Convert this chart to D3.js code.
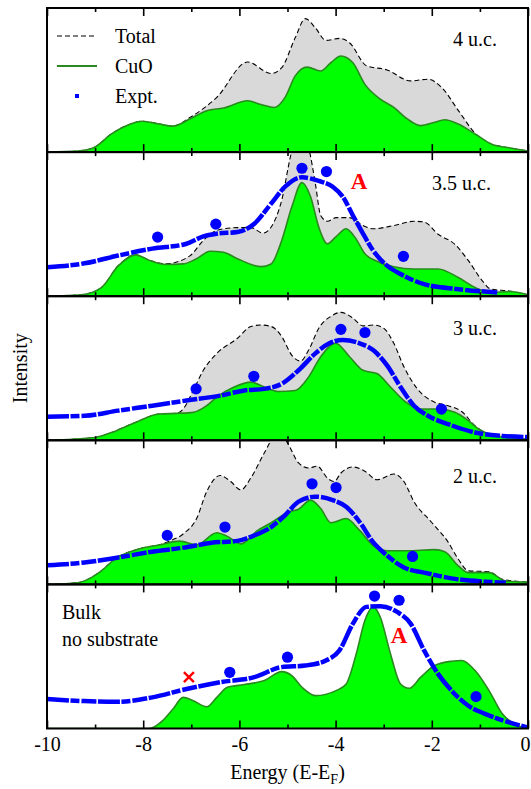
<!DOCTYPE html>
<html>
<head>
<meta charset="utf-8">
<script src="https://cdn.jsdelivr.net/npm/d3@7"></script>
<style>
  body { margin: 0; background: #fff; }
  text { font-family: "Liberation Serif", "Times New Roman", "DejaVu Serif", serif; }
</style>
</head>
<body>
<div id="chart"></div>
<script>
// Energy axis
const energyMajor = [-10, -8, -6, -4, -2, 0];
const energyMinor = [-9, -7, -5, -3, -1];

// Panel labels, top to bottom
const panelLabels = ["4 u.c.", "3.5 u.c.", "3 u.c.", "2 u.c.", "Bulk"];

// 4 u.c.
const cuo4 = [[-10,0],[-9.36,0.007],[-9.01,0.034],[-8.66,0.126],[-8.3,0.19],[-8.02,0.214],[-7.67,0.195],[-7.39,0.18],[-7.03,0.23],[-6.68,0.287],[-6.33,0.306],[-5.83,0.356],[-5.55,0.33],[-5.27,0.31],[-5.05,0.38],[-4.84,0.529],[-4.59,0.59],[-4.31,0.563],[-4.1,0.62],[-3.89,0.667],[-3.64,0.62],[-3.39,0.47],[-3.07,0.368],[-2.79,0.31],[-2.51,0.23],[-2.23,0.184],[-1.94,0.207],[-1.73,0.225],[-1.45,0.195],[-1.1,0.126],[-0.74,0.053],[-0.39,0.03],[0,0.007]];
const total4Upper = [[-7.03,0.24],[-6.47,0.38],[-5.83,0.625],[-5.34,0.545],[-5.12,0.586],[-4.84,0.793],[-4.63,0.926],[-4.42,0.862],[-4.2,0.775],[-3.92,0.789],[-3.71,0.759],[-3.36,0.6],[-2.93,0.57],[-2.44,0.494],[-2.08,0.506],[-1.8,0.45],[-1.45,0.29],[-1.1,0.13],[-0.81,0.057],[-0.39,0.03],[0,0.007]];

// 3.5 u.c.
const cuo35 = [[-10,0],[-9.29,0.01],[-8.87,0.06],[-8.52,0.21],[-8.16,0.287],[-7.88,0.25],[-7.53,0.22],[-7.17,0.224],[-6.89,0.26],[-6.61,0.312],[-6.33,0.305],[-6.04,0.26],[-5.55,0.205],[-5.34,0.224],[-5.12,0.387],[-4.91,0.62],[-4.7,0.788],[-4.52,0.69],[-4.35,0.48],[-4.17,0.364],[-4.0,0.41],[-3.78,0.468],[-3.6,0.41],[-3.39,0.294],[-3.14,0.242],[-2.79,0.205],[-2.37,0.189],[-1.87,0.189],[-1.45,0.13],[-1.1,0.06],[-0.78,0.026],[-0.39,0.033],[0,0.01]];
const total35Upper = [[-7.53,0.225],[-7.03,0.28],[-6.75,0.387],[-6.47,0.457],[-6.04,0.476],[-5.76,0.476],[-5.51,0.438],[-5.34,0.48],[-5.12,0.667],[-4.93,0.98],[-4.75,1.15],[-4.54,1.0],[-4.42,0.78],[-4.31,0.56],[-4.17,0.52],[-3.99,0.545],[-3.71,0.545],[-3.43,0.49],[-3.22,0.468],[-2.79,0.49],[-2.37,0.52],[-2.16,0.515],[-1.87,0.43],[-1.52,0.36],[-1.24,0.247],[-0.95,0.107],[-0.78,0.05],[-0.39,0.036],[0,0.01]];
const expt35 = [[-10,0.2],[-9.22,0.228],[-8.52,0.282],[-7.81,0.33],[-7.1,0.364],[-6.75,0.415],[-6.47,0.434],[-6.04,0.445],[-5.69,0.503],[-5.34,0.643],[-5.05,0.76],[-4.7,0.825],[-4.35,0.8],[-4.06,0.76],[-3.85,0.69],[-3.64,0.56],[-3.43,0.434],[-3.22,0.317],[-2.93,0.212],[-2.65,0.154],[-2.16,0.084],[-1.45,0.049],[-0.64,0.026]];
const dots35 = [[-7.7,0.41],[-6.49,0.5],[-4.7,0.888],[-4.19,0.865],[-2.59,0.277]];

// 3 u.c.
const cuo3 = [[-10,0],[-9.01,0.019],[-8.66,0.054],[-8.16,0.124],[-7.67,0.182],[-7.31,0.187],[-6.96,0.194],[-6.68,0.24],[-6.47,0.3],[-6.11,0.37],[-5.76,0.404],[-5.48,0.37],[-5.19,0.339],[-4.84,0.346],[-4.56,0.44],[-4.31,0.58],[-4.0,0.673],[-3.71,0.58],[-3.43,0.486],[-3.14,0.463],[-2.86,0.37],[-2.58,0.276],[-2.23,0.217],[-1.87,0.217],[-1.52,0.194],[-1.24,0.136],[-1.02,0.077],[-0.74,0.037],[0,0.007]];
const total3Upper = [[-7.17,0.217],[-6.96,0.346],[-6.75,0.486],[-6.47,0.603],[-6.04,0.708],[-5.76,0.79],[-5.55,0.8],[-5.34,0.79],[-5.12,0.72],[-4.91,0.59],[-4.73,0.55],[-4.56,0.626],[-4.35,0.778],[-4.1,0.86],[-3.89,0.888],[-3.64,0.848],[-3.43,0.794],[-3.22,0.8],[-3.0,0.778],[-2.79,0.673],[-2.58,0.51],[-2.3,0.357],[-1.94,0.264],[-1.66,0.24],[-1.38,0.2],[-1.1,0.1],[-0.81,0.04],[0,0.007]];
const expt3 = [[-10,0.164],[-9.22,0.17],[-8.52,0.206],[-7.81,0.24],[-7.1,0.276],[-6.4,0.31],[-5.9,0.346],[-5.48,0.357],[-5.12,0.392],[-4.77,0.486],[-4.42,0.603],[-4.13,0.673],[-3.85,0.696],[-3.5,0.673],[-3.22,0.626],[-2.93,0.52],[-2.65,0.37],[-2.37,0.24],[-2.08,0.17],[-1.66,0.112],[-1.1,0.054],[-0.53,0.03],[0,0.023]];
const dots3 = [[-6.9,0.357],[-5.7,0.444],[-3.89,0.77],[-3.39,0.748],[-1.8,0.217]];

// 2 u.c.
const cuo2 = [[-10,0],[-9.36,0.012],[-9.08,0.047],[-8.87,0.094],[-8.59,0.176],[-8.09,0.246],[-7.67,0.274],[-7.24,0.3],[-6.89,0.274],[-6.47,0.358],[-6.26,0.335],[-5.97,0.281],[-5.62,0.375],[-5.34,0.428],[-4.98,0.503],[-4.77,0.522],[-4.52,0.585],[-4.31,0.527],[-4.1,0.428],[-3.78,0.457],[-3.5,0.375],[-3.22,0.27],[-2.93,0.234],[-2.51,0.234],[-1.94,0.241],[-1.73,0.227],[-1.45,0.129],[-1.24,0.082],[-0.81,0.082],[-0.46,0.023],[0,0.016]];
const total2Upper = [[-7.46,0.3],[-7.17,0.35],[-6.89,0.457],[-6.68,0.644],[-6.4,0.756],[-6.18,0.714],[-5.97,0.656],[-5.76,0.74],[-5.48,0.913],[-5.19,1.06],[-4.98,0.97],[-4.77,0.843],[-4.56,0.808],[-4.38,0.82],[-4.17,0.738],[-4.03,0.714],[-3.89,0.773],[-3.64,0.815],[-3.39,0.785],[-3.14,0.726],[-2.79,0.766],[-2.58,0.714],[-2.37,0.574],[-2.01,0.433],[-1.66,0.293],[-1.45,0.176],[-1.24,0.094],[-0.81,0.088],[-0.53,0.035],[0,0.016]];
const expt2 = [[-10,0.133],[-9.22,0.152],[-8.52,0.187],[-7.81,0.227],[-7.1,0.258],[-6.61,0.288],[-6.04,0.302],[-5.69,0.34],[-5.34,0.398],[-5.05,0.48],[-4.77,0.574],[-4.42,0.609],[-4.06,0.585],[-3.78,0.539],[-3.5,0.433],[-3.22,0.293],[-2.93,0.2],[-2.58,0.117],[-2.16,0.082],[-1.45,0.035],[-0.88,0.019],[-0.46,0.012]];
const dots2 = [[-7.5,0.34],[-6.3,0.398],[-4.49,0.698],[-3.99,0.672],[-2.4,0.194]];

// Bulk, no substrate
const cuoBulk = [[-10,0],[-7.88,0],[-7.6,0.053],[-7.38,0.135],[-7.17,0.216],[-6.96,0.193],[-6.68,0.151],[-6.47,0.216],[-6.25,0.286],[-5.9,0.305],[-5.48,0.333],[-5.12,0.395],[-4.91,0.367],[-4.7,0.286],[-4.42,0.228],[-3.99,0.263],[-3.78,0.309],[-3.57,0.519],[-3.39,0.751],[-3.22,0.844],[-3.07,0.772],[-2.86,0.519],[-2.65,0.309],[-2.47,0.279],[-2.23,0.356],[-1.94,0.437],[-1.59,0.467],[-1.38,0.472],[-1.1,0.402],[-0.81,0.263],[-0.53,0.1],[-0.25,0.026],[0,0]];
const exptBulk = [[-10,0.205],[-9.22,0.19],[-8.52,0.186],[-7.81,0.216],[-7.1,0.274],[-6.4,0.321],[-5.69,0.356],[-5.12,0.426],[-4.63,0.437],[-4.2,0.472],[-3.92,0.542],[-3.64,0.728],[-3.36,0.844],[-3.07,0.849],[-2.72,0.809],[-2.44,0.728],[-2.16,0.542],[-1.87,0.379],[-1.59,0.263],[-1.24,0.158],[-0.88,0.1],[-0.39,0.042],[0,0.007]];
const dotsBulk = [[-6.2,0.39],[-5.0,0.495],[-3.19,0.919],[-2.68,0.89],[-1.08,0.221]];
const crossBulk = [[-7.05,0.356]];

// peak "A" labels
const markA35 = [[-3.51,0.795]];
const markABulk = [[-2.68,0.647]];

// Total = CuO where the two curves coincide on the low-energy side
function joinTotal(cuo, upper) {
  return cuo.filter(d => d[0] < upper[0][0] - 0.1).concat(upper);
}

const panels = [
  { cuo: cuo4, total: joinTotal(cuo4, total4Upper), expt: null, dots: [], marks: [] },
  { cuo: cuo35, total: joinTotal(cuo35, total35Upper), expt: expt35, dots: dots35, marks: markA35 },
  { cuo: cuo3, total: joinTotal(cuo3, total3Upper), expt: expt3, dots: dots3, marks: [] },
  { cuo: cuo2, total: joinTotal(cuo2, total2Upper), expt: expt2, dots: dots2, marks: [] },
  { cuo: cuoBulk, total: null, expt: exptBulk, dots: dotsBulk, marks: markABulk }
];

const width = 531, height = 789;
const plotL = 47, plotR = 528, plotT = 8, plotB = 728.5;
const panelH = (plotB - plotT) / panels.length;
const serif = '"Liberation Serif", "Times New Roman", "DejaVu Serif", serif';

const svg = d3.select('#chart').append('svg')
  .attr('width', width)
  .attr('height', height)
  .attr('font-family', serif);

const x = d3.scaleLinear().domain([-10, 0]).range([plotL, plotR]);

panels.forEach((p, i) => {
  const y0 = plotT + i * panelH;
  const y = d3.scaleLinear().domain([0, 1]).range([y0 + panelH, y0]);

  const clipId = 'clip' + i;
  svg.append('clipPath').attr('id', clipId)
    .append('rect')
    .attr('x', plotL).attr('y', y0)
    .attr('width', plotR - plotL).attr('height', panelH);

  const g = svg.append('g').attr('clip-path', `url(#${clipId})`);

  const area = d3.area()
    .x(d => x(d[0])).y0(y(0)).y1(d => y(d[1]))
    .curve(d3.curveMonotoneX);
  const line = d3.line()
    .x(d => x(d[0])).y(d => y(d[1]))
    .curve(d3.curveMonotoneX);

  // Total (gray + dashed)
  if (p.total) {
    g.append('path').attr('d', area(p.total)).attr('fill', '#d9d9d9');
    g.append('path').attr('d', line(p.total))
      .attr('fill', 'none').attr('stroke', '#000')
      .attr('stroke-width', 1.1).attr('stroke-dasharray', '5,3');
  }

  // CuO
  g.append('path').attr('d', area(p.cuo)).attr('fill', '#00ff00');
  g.append('path').attr('d', line(p.cuo))
    .attr('fill', 'none').attr('stroke', '#2a8a1f').attr('stroke-width', 1.6);

  // Expt. (dense square markers -> thick line with small gaps)
  if (p.expt) {
    g.append('path').attr('d', line(p.expt))
      .attr('fill', 'none').attr('stroke', '#0000ff')
      .attr('stroke-width', 4.5)
      .attr('stroke-dasharray', '22,1.5,9,2,15,1.5');
  }

  g.selectAll('circle.dot').data(p.dots).enter().append('circle')
    .attr('class', 'dot')
    .attr('cx', d => x(d[0])).attr('cy', d => y(d[1]))
    .attr('r', 5.6).attr('fill', '#0000ff');

  p.marks.forEach(d => {
    svg.append('text')
      .attr('x', x(d[0])).attr('y', y(d[1]))
      .attr('text-anchor', 'middle').attr('dominant-baseline', 'central')
      .attr('font-size', 23).attr('font-weight', 'bold')
      .attr('fill', '#ff0000').text('A');
  });

  // ticks, inward, on top and bottom of every panel
  const axB = svg.append('g').attr('transform', `translate(0,${y0 + panelH})`)
    .call(d3.axisBottom(x).tickValues(energyMajor).tickSize(-8).tickFormat(''));
  const axBm = svg.append('g').attr('transform', `translate(0,${y0 + panelH})`)
    .call(d3.axisBottom(x).tickValues(energyMinor).tickSize(-4).tickFormat(''));
  const axT = svg.append('g').attr('transform', `translate(0,${y0})`)
    .call(d3.axisTop(x).tickValues(energyMajor).tickSize(-8).tickFormat(''));
  const axTm = svg.append('g').attr('transform', `translate(0,${y0})`)
    .call(d3.axisTop(x).tickValues(energyMinor).tickSize(-4).tickFormat(''));
  [axB, axBm, axT, axTm].forEach(a => {
    a.select('.domain').remove();
    a.selectAll('line').attr('stroke', '#000').attr('stroke-width', 1.6);
  });

  // frame
  svg.append('rect')
    .attr('x', plotL).attr('y', y0)
    .attr('width', plotR - plotL).attr('height', panelH)
    .attr('fill', 'none').attr('stroke', '#000').attr('stroke-width', 2);
});

// crosses (bulk panel)
{
  const y0 = plotT + 4 * panelH;
  const y = d3.scaleLinear().domain([0, 1]).range([y0 + panelH, y0]);
  crossBulk.forEach(d => {
    const cx = x(d[0]), cy = y(d[1]), s = 5;
    svg.append('path')
      .attr('d', `M${cx - s},${cy - s}L${cx + s},${cy + s}M${cx - s},${cy + s}L${cx + s},${cy - s}`)
      .attr('stroke', '#ff0000').attr('stroke-width', 2.4);
  });
}

// panel labels
const labelPos = [[497, 46], [491, 190], [497, 335], [497, 483]];
labelPos.forEach((pos, i) => {
  svg.append('text')
    .attr('x', pos[0]).attr('y', pos[1])
    .attr('text-anchor', 'end').attr('font-size', 20)
    .text(panelLabels[i]);
});
svg.append('text').attr('x', 62).attr('y', 619).attr('font-size', 20).text(panelLabels[4]);
svg.append('text').attr('x', 62).attr('y', 646).attr('font-size', 20).text('no substrate');

// legend
const legend = svg.append('g');
legend.append('line').attr('x1', 57).attr('x2', 97).attr('y1', 36).attr('y2', 36)
  .attr('stroke', '#000').attr('stroke-width', 1.1).attr('stroke-dasharray', '5,3');
legend.append('text').attr('x', 115).attr('y', 43).attr('font-size', 20).text('Total');
legend.append('line').attr('x1', 57).attr('x2', 97).attr('y1', 66).attr('y2', 66)
  .attr('stroke', '#2a8a1f').attr('stroke-width', 2);
legend.append('text').attr('x', 115).attr('y', 73).attr('font-size', 20).text('CuO');
legend.append('rect').attr('x', 75).attr('y', 94).attr('width', 4).attr('height', 4)
  .attr('fill', '#0000ff');
legend.append('text').attr('x', 115).attr('y', 103).attr('font-size', 20).text('Expt.');

// x-axis labels on the bottom panel
const axisLabels = svg.append('g').attr('transform', `translate(0,${plotB})`)
  .call(d3.axisBottom(x).tickValues(energyMajor).tickSize(0).tickPadding(8)
    .tickFormat(d => d3.format('d')(d).replace('\u2212', '-')));
axisLabels.select('.domain').remove();
axisLabels.selectAll('text')
  .attr('font-family', serif).attr('font-size', 20).attr('fill', '#000')
  .attr('dx', d => d === 0 ? -3 : 0);

const xTitle = svg.append('text')
  .attr('x', (plotL + plotR) / 2).attr('y', 779)
  .attr('text-anchor', 'middle').attr('font-size', 20);
xTitle.append('tspan').text('Energy (E-E');
xTitle.append('tspan').attr('font-size', 14).attr('dy', 5).text('F');
xTitle.append('tspan').attr('dy', -5).text(')');

svg.append('text')
  .attr('transform', `translate(27,${(plotT + plotB) / 2}) rotate(-90)`)
  .attr('text-anchor', 'middle').attr('font-size', 20)
  .text('Intensity');
</script>
</body>
</html>
